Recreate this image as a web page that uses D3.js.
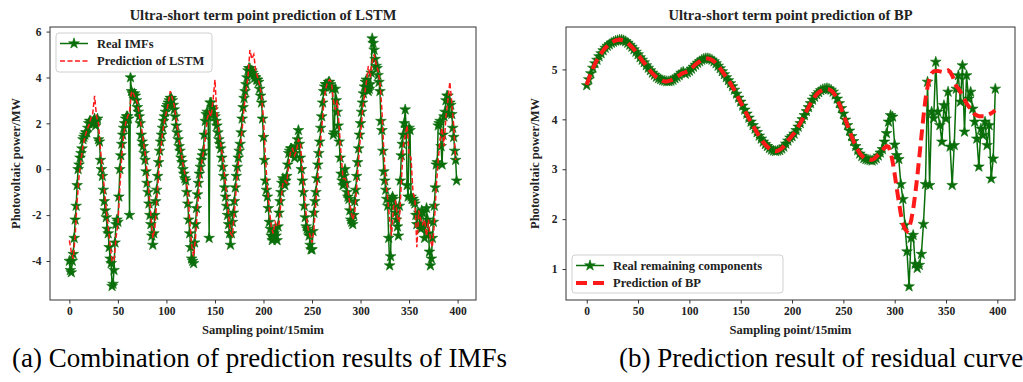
<!DOCTYPE html>
<html><head><meta charset="utf-8">
<script src="https://cdn.jsdelivr.net/npm/d3@7"></script>
<style>
body{margin:0;background:#fff;}
svg{display:block;}
text{font-family:"Liberation Serif","Times New Roman",serif;}
</style></head>
<body>
<svg id="chart" width="1023" height="382"></svg>
<script>
// ---------- DATA ----------
const xTicks = [0, 50, 100, 150, 200, 250, 300, 350, 400];
const leftYTicks = [-4, -2, 0, 2, 4, 6];
const rightYTicks = [1, 2, 3, 4, 5];

// one value per sampling point (0..399)
const realIMFs = [
-4.0,-4.4,-4.5,-4.0,-3.7,-3.0,-2.2,-1.6,-0.7,0.0,
0.2,0.5,0.7,0.9,1.3,1.4,1.5,1.6,1.6,1.8,
2.0,2.1,2.1,2.0,2.0,2.1,2.2,1.9,2.1,2.2,
1.3,1.2,0.4,0.0,-0.3,-0.9,-1.4,-1.8,-2.1,-2.6,
-2.8,-3.4,-3.9,-4.1,-5.1,-5.0,-4.4,-3.2,-2.4,-2.2,
-2.3,-1.2,0.0,0.6,1.1,1.5,1.8,2.0,2.2,2.3,
2.3,2.2,-2.0,4.0,3.4,3.3,3.2,3.3,3.2,3.0,
2.7,2.5,2.3,2.0,1.5,1.2,1.0,0.7,0.4,-0.1,
-0.6,-1.0,-1.5,-2.0,-2.4,-2.9,-3.3,-2.8,-2.0,-1.4,
-0.9,-0.3,0.3,0.8,1.2,1.5,1.8,2.1,2.3,2.5,
2.7,2.8,2.9,3.0,3.1,3.1,3.0,2.8,2.6,2.3,
1.9,1.6,1.3,1.0,0.8,0.5,0.3,0.0,-0.2,-0.4,
-0.5,-1.0,-1.5,-2.2,-2.8,-3.4,-3.9,-4.0,-4.1,-3.2,
-2.4,-1.7,-1.1,-0.6,-0.2,0.1,0.4,0.6,0.8,1.5,
2.1,2.4,2.5,2.3,-3.0,2.9,2.9,2.7,2.6,2.4,
2.3,2.1,1.9,1.6,1.3,1.1,0.9,0.5,0.1,-0.3,
-0.8,-1.2,-1.6,-2.0,-2.4,-2.8,-3.3,-2.8,-2.3,-1.9,
-1.4,-0.8,-0.3,0.1,0.5,0.8,1.1,1.6,2.2,2.7,
3.1,3.4,3.7,4.0,4.3,4.4,4.4,4.2,4.3,4.2,
4.1,4.0,4.0,3.9,3.9,3.8,3.5,3.2,2.9,2.2,
1.4,0.4,-0.5,-0.9,-1.2,-1.7,-2.3,-2.6,-2.9,-3.1,
-3.0,-2.8,-2.6,-2.9,-3.1,-2.5,-1.9,-1.4,-1.0,-0.6,
-0.4,-0.5,-0.7,-0.5,-0.3,0.2,0.7,0.8,0.9,0.9,
0.8,0.7,0.5,0.7,1.0,1.3,1.7,1.1,0.5,0.0,
-0.5,-1.0,-1.6,-2.1,-2.5,-2.6,-2.7,-2.9,-3.3,-3.5,
-3.5,-2.7,-1.9,-1.4,-1.0,-0.4,0.2,0.7,1.2,1.8,
2.3,2.9,3.4,3.6,3.7,3.7,3.7,3.8,3.8,3.7,
3.6,3.5,1.5,1.6,3.5,3.0,2.5,1.9,1.2,0.5,
-0.2,-0.5,-0.7,-0.3,0.0,-0.6,-1.0,-1.2,-1.3,-1.8,
-2.2,-2.3,-2.4,-2.0,-1.4,-0.9,-0.3,0.3,0.9,1.5,
2.0,2.5,2.9,3.3,3.6,3.8,3.9,3.6,3.4,3.5,
3.7,4.2,5.7,5.5,5.2,4.8,4.5,4.4,4.1,3.8,
3.4,2.1,1.7,0.8,-0.1,-0.5,-0.9,-1.3,-1.6,-3.0,
-4.2,-3.8,-1.3,-1.2,-1.3,-1.6,-1.9,-2.2,-2.5,-2.9,
-1.6,-0.5,0.6,1.1,1.5,2.0,2.6,1.8,-0.7,-1.2,
1.8,1.7,-1.2,-1.3,-1.3,-1.4,-1.5,-2.0,-2.4,-2.0,
-1.9,-2.4,-2.6,-1.8,-1.9,-2.5,-3.0,-2.4,-1.7,-2.2,
-2.8,-3.6,-4.2,-3.9,-3.0,-2.3,-1.6,-0.8,0.2,0.3,
1.9,2.0,2.1,1.0,0.2,1.5,2.3,2.5,3.0,3.2,
3.2,2.4,2.9,2.8,2.4,1.8,1.4,0.8,0.4,-0.5
];

// one value every second sampling point (0,2,...,398)
const predLSTM = [
-3.1,-3.6,-3.9,-2.9,-1.4,-0.3,0.4,1.0,1.4,1.7,
1.9,2.2,2.4,3.2,2.3,2.0,0.9,0.0,-0.8,-1.8,
-2.5,-3.3,-4.0,-4.0,-3.0,-2.4,-0.8,0.6,1.5,2.0,
2.3,2.5,3.4,3.3,3.1,2.9,2.4,1.9,1.3,0.7,
-0.1,-1.0,-2.0,-3.0,-2.6,-1.4,-0.2,0.8,1.6,2.1,
2.5,2.9,3.4,3.1,2.8,2.2,1.6,1.0,0.5,0.0,
-0.4,-1.0,-2.2,-3.3,-3.8,-3.0,-1.7,-0.6,0.2,0.7,
1.3,2.2,2.5,2.3,3.0,3.9,2.4,1.7,1.1,0.5,
-0.3,-1.1,-2.0,-2.8,-2.9,-1.9,-0.8,0.2,0.9,1.7,
2.7,3.4,4.0,5.2,4.8,5.0,4.3,4.0,3.7,3.2,
2.2,0.5,-0.8,-1.7,-2.5,-2.8,-2.3,-2.5,-2.4,-1.4,
-0.6,-0.5,-0.6,0.2,0.8,0.9,0.6,0.8,1.3,1.2,
0.0,-1.0,-2.0,-2.6,-2.9,-3.2,-2.6,-1.4,-0.3,0.8,
1.8,2.8,3.5,3.8,3.9,3.8,3.0,2.6,3.0,1.8,
0.6,-0.4,-0.4,-0.6,-1.2,-1.8,-2.2,-1.9,-0.8,0.4,
1.5,2.5,3.2,3.8,4.5,4.0,4.7,5.0,4.6,4.3,
3.8,2.6,0.8,-0.5,-1.3,-2.2,-2.9,-1.6,-1.4,-2.1,
-2.3,-0.6,1.0,1.5,1.9,0.6,0.5,-1.0,-1.3,-3.4,
-1.8,-2.2,-2.4,-2.2,-2.9,-2.2,-3.1,-3.4,-2.4,-0.8,
0.4,1.3,1.8,1.0,2.3,3.0,3.8,2.9,1.9,0.4
];

const realRemaining = [
4.68,4.80,4.92,5.03,5.12,5.19,5.26,5.32,5.38,5.43,
5.47,5.50,5.53,5.55,5.57,5.58,5.59,5.59,5.58,5.56,
5.53,5.49,5.45,5.40,5.35,5.30,5.24,5.19,5.14,5.08,
5.03,4.98,4.93,4.89,4.85,4.82,4.80,4.78,4.77,4.76,
4.76,4.77,4.79,4.82,4.85,4.88,4.93,4.95,4.91,4.94,
4.97,5.01,5.05,5.09,5.13,5.16,5.19,5.21,5.22,5.22,
5.21,5.19,5.16,5.12,5.07,5.02,4.96,4.90,4.84,4.78,
4.72,4.66,4.59,4.51,4.43,4.35,4.27,4.19,4.11,4.03,
3.95,3.88,3.81,3.74,3.67,3.61,3.55,3.50,3.46,3.42,
3.39,3.37,3.36,3.37,3.38,3.41,3.45,3.51,3.57,3.63,
3.66,3.71,3.78,3.85,3.92,4.00,4.08,4.16,4.24,4.32,
4.39,4.45,4.50,4.54,4.58,4.60,4.61,4.62,4.61,4.59,
4.55,4.49,4.41,4.32,4.22,4.11,3.99,3.88,3.77,3.66,
3.56,3.46,3.38,3.31,3.26,3.22,3.20,3.19,3.18,3.17,
3.19,3.22,3.27,3.33,3.40,3.55,3.72,3.95,4.08,4.05,
3.49,3.28,3.20,2.70,2.40,1.88,1.35,0.65,1.62,1.68,
1.10,1.02,1.08,1.30,1.90,2.70,4.75,2.68,4.15,4.02,
5.15,4.15,3.88,3.55,4.28,4.01,4.55,3.45,2.68,3.48,
4.61,4.88,4.35,5.08,3.75,4.88,4.41,4.55,4.21,3.95,
3.61,3.05,3.81,3.68,3.95,3.48,3.88,2.81,3.21,4.61
];

const predBP = [
4.69,4.81,4.92,5.02,5.11,5.19,5.26,5.32,5.38,5.43,
5.47,5.51,5.54,5.56,5.58,5.59,5.60,5.59,5.58,5.56,
5.53,5.49,5.45,5.40,5.35,5.29,5.24,5.18,5.13,5.07,
5.02,4.97,4.92,4.88,4.84,4.81,4.79,4.77,4.76,4.76,
4.77,4.78,4.80,4.82,4.85,4.88,4.91,4.93,4.94,4.96,
4.98,5.02,5.06,5.10,5.13,5.16,5.19,5.21,5.22,5.22,
5.21,5.19,5.16,5.12,5.07,5.02,4.96,4.90,4.84,4.78,
4.72,4.65,4.58,4.50,4.42,4.34,4.26,4.18,4.10,4.02,
3.94,3.87,3.80,3.73,3.66,3.60,3.54,3.49,3.45,3.41,
3.38,3.37,3.36,3.37,3.39,3.42,3.46,3.51,3.57,3.62,
3.67,3.72,3.78,3.85,3.92,4.00,4.08,4.16,4.24,4.32,
4.39,4.45,4.50,4.54,4.57,4.59,4.61,4.61,4.60,4.58,
4.54,4.48,4.40,4.31,4.21,4.10,3.99,3.88,3.77,3.66,
3.56,3.47,3.39,3.32,3.27,3.23,3.21,3.20,3.19,3.19,
3.21,3.25,3.29,3.33,3.38,3.43,3.46,3.45,3.35,3.15,
2.90,2.62,2.35,2.10,1.90,1.80,1.76,1.82,1.97,2.20,
2.50,2.85,3.25,3.65,4.05,4.40,4.65,4.82,4.92,4.96,
4.97,4.97,4.96,4.95,4.95,4.96,4.98,4.95,4.88,4.78,
4.66,4.62,4.55,4.48,4.40,4.32,4.26,4.21,4.15,4.10,
4.08,4.06,4.06,4.06,4.06,4.08,4.10,4.12,4.15,4.18
];

// ---------- DRAW ----------
const svg = d3.select("#chart");
const GREEN = "#0a6f0a", RED = "#ff1a1a", FRAME = "#333";
const FONT = '"Liberation Serif","Times New Roman",serif';
const SPAN = 400; // number of sampling points covered by each series

function panel(opt) {
  const {x0, x1, y0, y1, xDomain, yDomain, yTicks, real, pred, title, caption, capX,
         legend, predWidth, predDash, legendPos, yLabelX} = opt;
  const x = d3.scaleLinear().domain(xDomain).range([x0, x1]);
  const y = d3.scaleLinear().domain(yDomain).range([y1, y0]);
  const g = svg.append("g");
  const clipId = "clip" + x0;
  svg.append("clipPath").attr("id", clipId).append("rect")
    .attr("x", x0).attr("y", y0).attr("width", x1 - x0).attr("height", y1 - y0);

  const xAxis = d3.axisBottom(x).tickValues(xTicks).tickSize(3.5).tickPadding(3).tickFormat(d3.format("d"));
  const yAxis = d3.axisLeft(y).tickValues(yTicks).tickSize(3.5).tickPadding(5).tickFormat(d3.format("d"));
  const gx = g.append("g").attr("transform", `translate(0,${y1})`).call(xAxis);
  const gy = g.append("g").attr("transform", `translate(${x0},0)`).call(yAxis);
  [gx, gy].forEach(a => {
    a.select(".domain").remove();
    a.selectAll(".tick line").attr("stroke", FRAME).attr("stroke-width", 1);
    a.selectAll(".tick text").attr("fill", "#222").style("font-family", FONT)
      .style("font-weight", "bold").style("font-size", "11.5px");
  });
  gy.selectAll(".tick text").text(d => d < 0 ? "-" + Math.abs(d) : d);

  const plot = g.append("g").attr("clip-path", `url(#${clipId})`);
  const rs = SPAN / real.length, ps = SPAN / pred.length;
  const lineR = d3.line().x((d, i) => x(i * rs)).y(d => y(d));
  const lineP = d3.line().x((d, i) => x(i * ps)).y(d => y(d));
  plot.append("path").datum(real).attr("d", lineR)
    .attr("fill", "none").attr("stroke", GREEN).attr("stroke-width", 1.5);
  const star = d3.symbol().type(d3.symbolStar).size(36);
  plot.selectAll("path.star").data(real).join("path").attr("class", "star")
    .attr("transform", (d, i) => `translate(${x(i * rs)},${y(d)})`)
    .attr("d", star).attr("fill", GREEN).attr("stroke", GREEN).attr("stroke-width", 0.6);
  plot.append("path").datum(pred).attr("d", lineP)
    .attr("fill", "none").attr("stroke", RED).attr("stroke-width", predWidth)
    .attr("stroke-dasharray", predDash);

  g.append("rect").attr("x", x0).attr("y", y0).attr("width", x1 - x0).attr("height", y1 - y0)
    .attr("fill", "none").attr("stroke", FRAME).attr("stroke-width", 1);

  g.append("text").attr("x", (x0 + x1) / 2).attr("y", 20).attr("text-anchor", "middle")
    .style("font-weight", "bold").style("font-size", "14.5px").attr("fill", "#222").text(title);
  g.append("text").attr("x", (x0 + x1) / 2).attr("y", 334).attr("text-anchor", "middle")
    .style("font-weight", "bold").style("font-size", "12.5px").attr("fill", "#222")
    .text("Sampling point/15mim");
  g.append("text").attr("transform", `translate(${yLabelX},${(y0 + y1) / 2}) rotate(-90)`)
    .attr("text-anchor", "middle").style("font-weight", "bold").style("font-size", "12.5px")
    .attr("fill", "#222").text("Photovoltaic power/MW");
  g.append("text").attr("x", capX).attr("y", 367).style("font-size", "27px")
    .attr("fill", "#000").text(caption);

  const lg = g.append("g").attr("transform", `translate(${legendPos[0]},${legendPos[1]})`);
  lg.append("rect").attr("x", 0).attr("y", 0).attr("width", legendPos[2]).attr("height", legendPos[3])
    .attr("rx", 3).attr("fill", "#fff").attr("fill-opacity", 0.85).attr("stroke", "#d0d0d0");
  const e1 = 10.5, e2 = 28;
  lg.append("line").attr("x1", 4).attr("x2", 32).attr("y1", e1).attr("y2", e1)
    .attr("stroke", GREEN).attr("stroke-width", 1.5);
  lg.append("path").attr("transform", `translate(18,${e1})`).attr("d", star)
    .attr("fill", GREEN).attr("stroke", GREEN).attr("stroke-width", 0.6);
  lg.append("line").attr("x1", 4).attr("x2", 32).attr("y1", e2).attr("y2", e2)
    .attr("stroke", RED).attr("stroke-width", predWidth).attr("stroke-dasharray", predDash);
  lg.append("text").attr("x", 41).attr("y", e1 + 4).style("font-weight", "bold")
    .style("font-size", "12.5px").attr("fill", "#222").text(legend[0]);
  lg.append("text").attr("x", 41).attr("y", e2 + 4).style("font-weight", "bold")
    .style("font-size", "12.5px").attr("fill", "#222").text(legend[1]);
}

panel({
  x0: 50, x1: 476, y0: 27, y1: 300,
  xDomain: [-19.95, 418.95], yDomain: [-5.7, 6.2], yTicks: leftYTicks,
  real: realIMFs, pred: predLSTM,
  title: "Ultra-short term point prediction of LSTM",
  caption: "(a) Combination of prediction results of IMFs", capX: 12,
  legend: ["Real IMFs", "Prediction of LSTM"],
  predWidth: 1.5, predDash: "5,2.5", legendPos: [56, 33, 156, 39], yLabelX: 20
});
panel({
  x0: 566, x1: 1015, y0: 27, y1: 300,
  xDomain: [-20.2, 417.2], yDomain: [0.38, 5.85], yTicks: rightYTicks,
  real: realRemaining, pred: predBP,
  title: "Ultra-short term point prediction of BP",
  caption: "(b) Prediction result of residual curve", capX: 619,
  legend: ["Real remaining components", "Prediction of BP"],
  predWidth: 4, predDash: "11,6", legendPos: [572, 255, 211, 38], yLabelX: 539
});
</script>
</body></html>
